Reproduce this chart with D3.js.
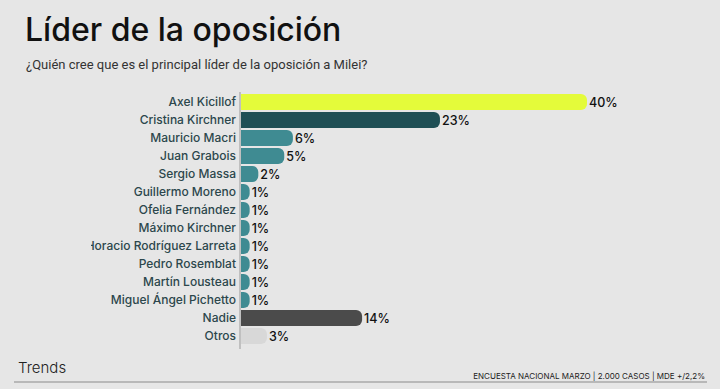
<!DOCTYPE html>
<html>
<head>
<meta charset="utf-8">
<script src="https://cdn.jsdelivr.net/npm/d3@7"></script>
<style>
  html, body { margin: 0; padding: 0; background: #e6e6e6; }
  svg { display: block; font-family: "Open Sans", "Noto Sans", sans-serif; }
</style>
</head>
<body>
<svg id="chart"></svg>
<script>
const names = [
  "Axel Kicillof", "Cristina Kirchner", "Mauricio Macri", "Juan Grabois",
  "Sergio Massa", "Guillermo Moreno", "Ofelia Fernández", "Máximo Kirchner",
  "Horacio Rodríguez Larreta", "Pedro Rosemblat", "Martín Lousteau",
  "Miguel Ángel Pichetto", "Nadie", "Otros"
];
const values = [40, 23, 6, 5, 2, 1, 1, 1, 1, 1, 1, 1, 14, 3];
const colors = [
  "#e4fb3a", "#1f4f55", "#3f8b92", "#3f8b92", "#3f8b92", "#3f8b92", "#3f8b92",
  "#3f8b92", "#3f8b92", "#3f8b92", "#3f8b92", "#3f8b92", "#4b4b4b", "#d8d8d8"
];

const w = 720;
const h = 389;

const svg = d3.select("#chart")
  .attr("width", w)
  .attr("height", h);

svg.append("rect").attr("width", w).attr("height", h).attr("fill", "#e6e6e6");

// title block
svg.append("text")
  .attr("x", 25).attr("y", 41)
  .attr("font-size", 32).attr("font-weight", 500)
  .attr("fill", "#111")
  .style("font-family", "Inter, 'Open Sans', sans-serif")
  .text("Líder de la oposición");

svg.append("text")
  .attr("x", 26).attr("y", 69)
  .attr("font-size", 13)
  .attr("fill", "#333")
  .style("font-family", "Roboto, sans-serif")
  .text("¿Quién cree que es el principal líder de la oposición a Milei?");

const x0 = 241;
const xScale = d3.scaleLinear()
  .domain([0, 40])
  .range([x0, 587]);

const yScale = d3.scaleBand()
  .domain(names)
  .range([93, 345])
  .paddingInner(0.12)
  .paddingOuter(0.06);

// clip so long labels are cut at the left like the original
svg.append("clipPath").attr("id", "lab")
  .append("rect").attr("x", 91).attr("y", 80).attr("width", 150).attr("height", 280);

const bh = yScale.bandwidth();
const r = 6;

function barPath(d, i) {
  const x1 = xScale(d);
  const y = yScale(names[i]);
  const rr = Math.min(r, (x1 - x0), bh / 2);
  const p = d3.path();
  p.moveTo(x0, y);
  p.lineTo(x1 - rr, y);
  p.arcTo(x1, y, x1, y + rr, rr);
  p.lineTo(x1, y + bh - rr);
  p.arcTo(x1, y + bh, x1 - rr, y + bh, rr);
  p.lineTo(x0, y + bh);
  p.closePath();
  return p.toString();
}

svg.append("g")
  .selectAll("path")
  .data(values)
  .join("path")
  .attr("d", barPath)
  .attr("fill", (d, i) => colors[i]);

svg.append("g")
  .attr("clip-path", "url(#lab)")
  .selectAll("text")
  .data(names)
  .join("text")
  .attr("x", 236)
  .attr("y", d => yScale(d) + bh / 2)
  .attr("dy", "0.36em")
  .attr("text-anchor", "end")
  .attr("font-size", 12)
  .attr("font-weight", 500)
  .attr("fill", "#2c474c")
  .style("font-family", "Inter, sans-serif")
  .text(d => d);

svg.append("g")
  .selectAll("text")
  .data(values)
  .join("text")
  .attr("x", d => xScale(d) + 2)
  .attr("y", (d, i) => yScale(names[i]) + bh / 2)
  .attr("dy", "0.36em")
  .attr("font-size", 12.5)
  .attr("font-weight", 500)
  .attr("fill", "#111")
  .style("font-family", "Inter, sans-serif")
  .text(d => d + "%");

// axis line
svg.append("line")
  .attr("x1", 240).attr("x2", 240)
  .attr("y1", 92).attr("y2", 349)
  .attr("stroke", "#999").attr("stroke-width", 1);

// footer
svg.append("text")
  .attr("x", 18).attr("y", 373)
  .attr("font-size", 15).attr("font-weight", 300)
  .attr("fill", "#222")
  .style("font-family", "Inter, sans-serif")
  .text("Trends");

svg.append("text")
  .attr("x", 705).attr("y", 379)
  .attr("text-anchor", "end")
  .attr("font-size", 8)
  .attr("fill", "#222")
  .style("font-family", "Inter, sans-serif")
  .text("ENCUESTA NACIONAL MARZO | 2.000 CASOS | MDE +/2,2%");

svg.append("line")
  .attr("x1", 14).attr("x2", 707)
  .attr("y1", 382).attr("y2", 382)
  .attr("stroke", "#8a8a8a").attr("stroke-width", 1);
</script>
</body>
</html>
